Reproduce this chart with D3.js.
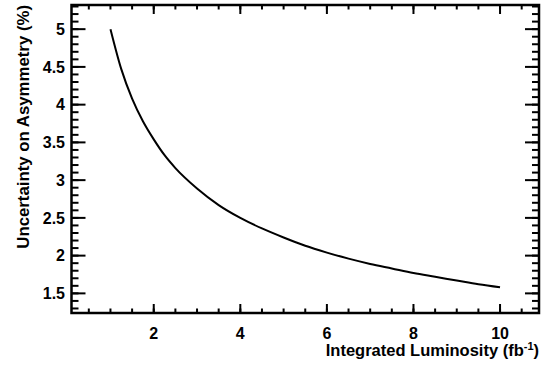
<!DOCTYPE html>
<html>
<head>
<meta charset="utf-8">
<script src="https://cdn.jsdelivr.net/npm/d3@7"></script>
<style>
  body { margin: 0; background: #fff; }
  text { font-family: "Liberation Sans", Arial, sans-serif; font-weight: bold; }
</style>
</head>
<body>
<div class="chart"></div>
<script>
// luminosity (fb^-1) and the uncertainty
let lumi = [1, 1.25, 1.5, 1.75, 2, 2.25, 2.5, 3, 3.5, 4, 4.5, 5, 5.5, 6, 6.5, 7, 7.5, 8, 8.5, 9, 9.5, 10];
let uncert = [5.0, 4.47, 4.08, 3.78, 3.54, 3.33, 3.16, 2.89, 2.67, 2.5, 2.36, 2.24, 2.13, 2.04, 1.96, 1.89, 1.83, 1.77, 1.72, 1.67, 1.62, 1.58];

let xTicks = [2, 4, 6, 8, 10];
let yTicks = [1.5, 2, 2.5, 3, 3.5, 4, 4.5, 5];

let margin = {top: 5, right: 15, bottom: 54, left: 71.5};
let fullWidth = 554, fullHeight = 367;
let width = fullWidth - margin.left - margin.right;
let height = fullHeight - margin.top - margin.bottom;

let svg = d3.select('.chart')
  .append('svg')
    .attr('width', fullWidth)
    .attr('height', fullHeight)
  .append('g')
    .attr('transform', `translate(${margin.left}, ${margin.top})`);

let xScale = d3.scaleLinear().domain([0.1, 10.9]).range([0, width]);
let yScale = d3.scaleLinear().domain([1.24, 5.32]).range([height, 0]);

let xMinor = d3.range(0.5, 10.9, 0.5);
let yMinor = d3.range(1.3, 5.32, 0.1).map(d => +d.toFixed(1));

function drawTicks(cls, scale, values, len, orient) {
  let g = svg.append('g').attr('class', cls);
  g.selectAll('line').data(values).enter().append('line')
    .attr('x1', d => orient === 'b' || orient === 't' ? scale(d) : (orient === 'l' ? 0 : width))
    .attr('x2', d => orient === 'b' || orient === 't' ? scale(d) : (orient === 'l' ? len : width - len))
    .attr('y1', d => orient === 'l' || orient === 'r' ? scale(d) : (orient === 'b' ? height : 0))
    .attr('y2', d => orient === 'l' || orient === 'r' ? scale(d) : (orient === 'b' ? height - len : len))
    .attr('stroke', '#000')
    .attr('stroke-width', 2);
}

drawTicks('xminor-b', xScale, xMinor, 4.5, 'b');
drawTicks('xmajor-b', xScale, xTicks, 9, 'b');
drawTicks('xminor-t', xScale, xMinor, 4.5, 't');
drawTicks('xmajor-t', xScale, xTicks, 9, 't');
drawTicks('yminor-l', yScale, yMinor, 7, 'l');
drawTicks('ymajor-l', yScale, yTicks, 14, 'l');
drawTicks('yminor-r', yScale, yMinor, 7, 'r');
drawTicks('ymajor-r', yScale, yTicks, 14, 'r');

// tick labels
svg.append('g').selectAll('text').data(xTicks).enter().append('text')
  .attr('x', d => xScale(d))
  .attr('y', height + 25.5)
  .attr('text-anchor', 'middle')
  .style('font-size', '16px')
  .text(d => d);

svg.append('g').selectAll('text').data(yTicks).enter().append('text')
  .attr('x', -6.5)
  .attr('y', d => yScale(d) + 5.8)
  .attr('text-anchor', 'end')
  .style('font-size', '16px')
  .text(d => d);

// frame
svg.append('rect')
  .attr('width', width)
  .attr('height', height)
  .attr('fill', 'none')
  .attr('stroke', '#000')
  .attr('stroke-width', 2.5);

let line = d3.line()
  .curve(d3.curveMonotoneX)
  .x((d, i) => xScale(lumi[i]))
  .y(d => yScale(d));

svg.append('path')
  .datum(uncert)
  .attr('d', line)
  .attr('fill', 'none')
  .attr('stroke', '#000')
  .attr('stroke-width', 2);

// axis titles
let xTitle = svg.append('text')
  .attr('x', width)
  .attr('y', height + 43)
  .attr('text-anchor', 'end')
  .style('font-size', '16.5px');
xTitle.append('tspan').text('Integrated Luminosity (fb');
xTitle.append('tspan').attr('dy', -6.5).style('font-size', '11px').text('-1');
xTitle.append('tspan').attr('dy', 6.5).text(')');

svg.append('text')
  .attr('transform', `translate(${29 - margin.left}, 0) rotate(-90)`)
  .attr('text-anchor', 'end')
  .style('font-size', '16.8px')
  .text('Uncertainty on Asymmetry (%)');
</script>
</body>
</html>
